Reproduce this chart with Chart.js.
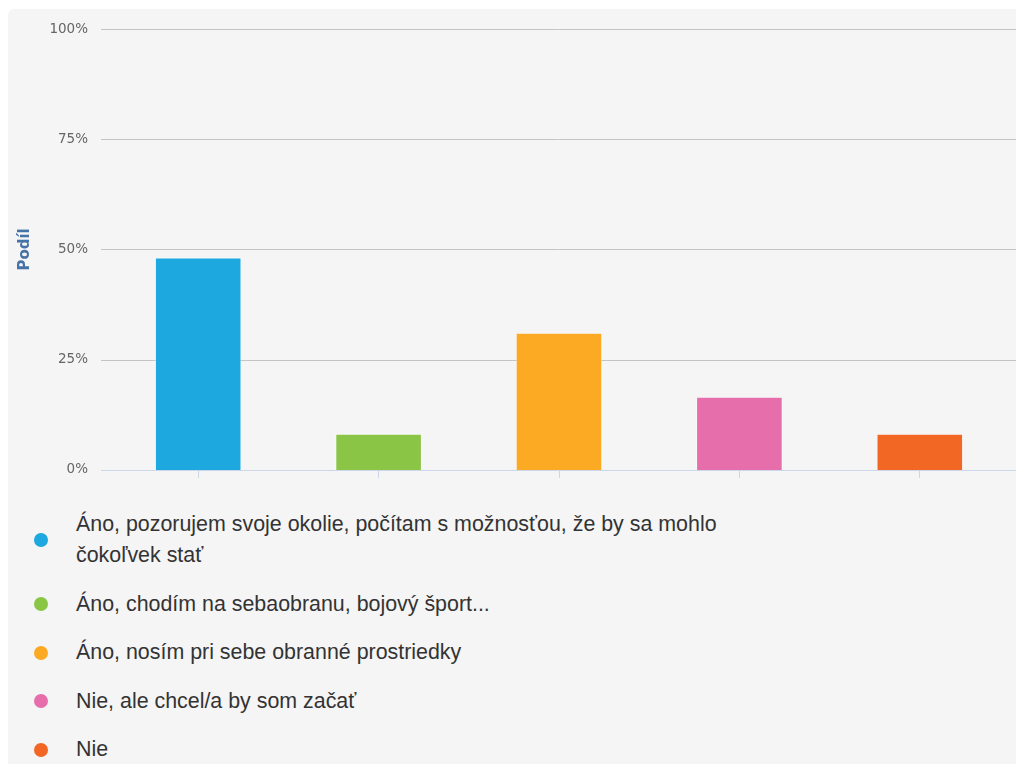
<!DOCTYPE html>
<html lang="sk">
<head>
<meta charset="utf-8">
<script src="https://cdn.jsdelivr.net/npm/chart.js@4/dist/chart.umd.min.js"></script>
<style>
    html, body { margin: 0; padding: 0; background: #fff; width: 1016px; height: 764px; overflow: hidden; }
    #panel { position: absolute; left: 8px; top: 9px; right: 0; bottom: 0; background: #f5f5f5; border-top-left-radius: 6px; }
    #wrap { position: absolute; left: 0; top: 0; width: 1016px; height: 490px; }
    #legenda { position: absolute; left: 0; top: 509px; margin: 0; padding: 0; list-style: none;
        font-family: "Liberation Sans", Arial, sans-serif; font-size: 21.4px; color: #333; }
    #legenda li { position: relative; padding-left: 76px; line-height: 31px; margin-bottom: 17.5px; max-width: 680px; }
    #legenda li span.dot { position: absolute; left: 34px; top: 50%; width: 14px; height: 14px; margin-top: -7px; border-radius: 50%; }
</style>
</head>
<body>
<div id="panel"></div>
<div id="wrap"><canvas id="graf" width="1016" height="490"></canvas></div>
<ul id="legenda"></ul>
<script>
const kategorie = [
    'Áno, pozorujem svoje okolie, počítam s možnosťou, že by sa mohlo čokoľvek stať',
    'Áno, chodím na sebaobranu, bojový šport...',
    'Áno, nosím pri sebe obranné prostriedky',
    'Nie, ale chcel/a by som začať',
    'Nie'
];
const podiely = [48.2, 8.2, 31.1, 16.6, 8.2];
const farby = ['#1ea8e0', '#8bc546', '#fca923', '#e66eab', '#f26724'];
const yTicky = [0, 25, 50, 75, 100];

// legenda pod grafom
const legenda = document.getElementById('legenda');
kategorie.forEach((k, i) => {
    legenda.innerHTML += `<li><span class="dot" style="background:${farby[i]}"></span>${k}</li>`;
});

// mriežka cez celú šírku, za stĺpcami
const mriezka = {
    id: 'mriezka',
    beforeDatasetsDraw(chart) {
        const ctx = chart.ctx;
        const y = chart.scales.y;
        ctx.save();
        ctx.lineWidth = 1;
        yTicky.forEach(v => {
            const py = Math.round(y.getPixelForValue(v)) + 0.5;
            ctx.strokeStyle = v === 0 ? '#ccd6eb' : '#c4c4c4';
            ctx.beginPath();
            ctx.moveTo(101, py);
            ctx.lineTo(chart.width, py);
            ctx.stroke();
        });
        ctx.restore();
    }
};

new Chart(document.getElementById('graf').getContext('2d'), {
    type: 'bar',
    data: {
        labels: kategorie,
        datasets: [{
            data: podiely,
            backgroundColor: farby,
            borderColor: 'rgba(255,255,255,0.5)',
            borderWidth: 1,
            barPercentage: 0.48,
            categoryPercentage: 1
        }]
    },
    options: {
        responsive: false,
        animation: false,
        layout: { padding: { left: 0, top: 29, right: 6, bottom: 7 } },
        plugins: { legend: { display: false }, tooltip: { enabled: false } },
        scales: {
            x: {
                ticks: { display: false },
                grid: { drawOnChartArea: false, drawTicks: true, tickLength: 8, color: '#ccd6eb', offset: false },
                border: { display: false },
                afterFit(scale) { scale.height = 8; }
            },
            y: {
                min: 0,
                max: 100,
                ticks: {
                    stepSize: 25,
                    padding: 12,
                    color: '#666',
                    font: { family: 'DejaVu Sans', size: 13.5 },
                    callback: v => v + '%'
                },
                grid: { display: false },
                border: { display: false },
                title: {
                    display: true,
                    text: 'Podíl',
                    color: '#4572a7',
                    font: { family: 'DejaVu Sans', size: 15, weight: 'bold' },
                    padding: { top: 16, bottom: 0 }
                },
                afterFit(scale) { scale.width = 108; }
            }
        }
    },
    plugins: [mriezka]
});
</script>
</body>
</html>
